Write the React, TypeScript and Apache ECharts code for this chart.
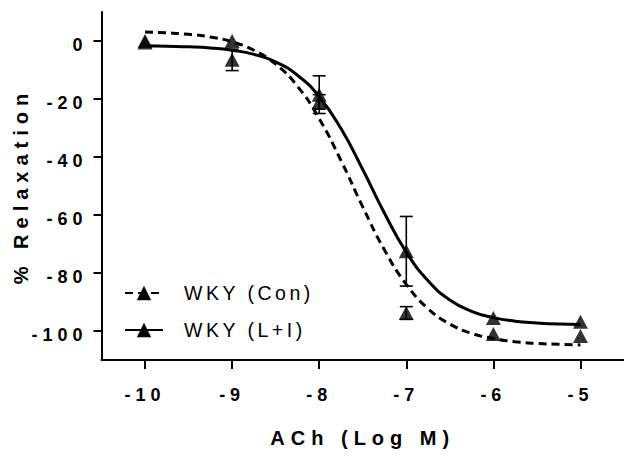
import React, { useEffect, useRef } from 'react';
import * as echarts from 'echarts';

// Concentrations (log M) and responses (% relaxation)
const doseLogM = [-10, -9, -8, -7, -6, -5];
const conMean = [0, 0, -21, -93.8, -101, -101.7];
const conSem = [0, 0, 2.5, 2.2, 0, 0];
const liMean = [-0.5, -6.5, -18.5, -72.5, -95.5, -96.8];
const liSem = [0, 3.7, 6.5, 12, 0, 0];

// Fitted curves
const fitX = [-10, -9.75, -9.5, -9.25, -9, -8.75, -8.5, -8.25, -8, -7.75, -7.5, -7.25, -7, -6.75, -6.5, -6.25, -6, -5.75, -5.5, -5.25, -5];
const conFit = [3.1, 2.8, 2.3, 1.4, -0.3, -3.2, -8.0, -15.6, -26.8, -41.2, -57.2, -72.1, -83.9, -92.3, -97.6, -100.8, -102.6, -103.7, -104.3, -104.6, -104.8];
const liFit = [-1.6, -1.8, -2.0, -2.4, -3.2, -4.6, -7.2, -11.8, -19.2, -30.2, -44.3, -59.4, -72.8, -82.7, -89.3, -93.2, -95.4, -96.6, -97.2, -97.6, -97.8];

const xTicks = [-10, -9, -8, -7, -6, -5];
const yTicks = [0, -20, -40, -60, -80, -100];
const seriesNames = ['WKY (Con)', 'WKY (L+I)'];

const FONT = 'Liberation Sans';

function errorSeries(name: string, mean: number[], sem: number[]) {
  return {
    name,
    type: 'custom',
    z: 3,
    silent: true,
    data: doseLogM.map((x, i) => [x, mean[i], sem[i]]).filter((d) => d[2] > 0),
    encode: { x: 0, y: 1 },
    renderItem: (_params: any, api: any) => {
      const x = api.value(0);
      const m = api.value(1);
      const e = api.value(2);
      const top = api.coord([x, m + e]);
      const bot = api.coord([x, m - e]);
      const hw = 6.5;
      const st = { stroke: '#000', lineWidth: 1.6 };
      return {
        type: 'group',
        children: [
          { type: 'line', shape: { x1: top[0], y1: top[1], x2: bot[0], y2: bot[1] }, style: st },
          { type: 'line', shape: { x1: top[0] - hw, y1: top[1], x2: top[0] + hw, y2: top[1] }, style: st },
          { type: 'line', shape: { x1: bot[0] - hw, y1: bot[1], x2: bot[0] + hw, y2: bot[1] }, style: st },
        ],
      };
    },
  };
}

export default function App() {
  const ref = useRef<HTMLDivElement>(null);
  useEffect(() => {
    if (!ref.current) return;
    const chart = echarts.init(ref.current, null, { renderer: 'svg' });
    const option: any = {
      animation: false,
      backgroundColor: '#fff',
      grid: { left: 101.5, top: 12, width: 524.4, height: 348, containLabel: false },
      legend: {
        data: seriesNames,
        orient: 'vertical',
        left: 124,
        top: 283,
        padding: 0,
        itemWidth: 38,
        itemHeight: 18,
        itemGap: 17,
        selectedMode: false,
        textStyle: { fontFamily: FONT, fontSize: 19.5, color: '#000', padding: [0, 0, 0, 16] },
      },
      xAxis: {
        type: 'value',
        min: -10.5,
        max: -4.5,
        name: 'ACh (Log M)',
        nameLocation: 'middle',
        nameGap: 68,
        nameTextStyle: { fontFamily: FONT, fontSize: 20, fontWeight: 'bold', color: '#000' },
        axisLine: { onZero: false, lineStyle: { color: '#000', width: 2 } },
        axisTick: { show: true, length: 9, customValues: xTicks, lineStyle: { color: '#000', width: 2 } },
        axisLabel: { customValues: xTicks, fontFamily: FONT, fontSize: 18, fontWeight: 'bold', color: '#000', margin: 26 },
        splitLine: { show: false },
      },
      yAxis: {
        type: 'value',
        min: -110,
        max: 10,
        name: '% Relaxation',
        nameLocation: 'middle',
        nameGap: 71,
        nameTextStyle: { fontFamily: FONT, fontSize: 20, fontWeight: 'bold', color: '#000' },
        axisLine: { onZero: false, lineStyle: { color: '#000', width: 2 } },
        axisTick: { show: true, length: 8, customValues: yTicks, lineStyle: { color: '#000', width: 2 } },
        axisLabel: {
          customValues: yTicks,
          fontFamily: FONT,
          fontSize: 18,
          fontWeight: 'bold',
          color: '#000',
          margin: 14,
          verticalAlign: 'top',
          lineHeight: 7,
        },
        splitLine: { show: false },
      },
      series: [
        {
          name: seriesNames[0],
          type: 'line',
          data: fitX.map((x, i) => [x, conFit[i]]),
          smooth: true,
          showSymbol: false,
          symbol: 'triangle',
          silent: true,
          color: '#000',
          itemStyle: { color: '#000' },
          lineStyle: { color: '#000', width: 3, type: [8, 5] },
          z: 2,
        },
        {
          name: seriesNames[1],
          type: 'line',
          data: fitX.map((x, i) => [x, liFit[i]]),
          smooth: true,
          showSymbol: false,
          symbol: 'triangle',
          silent: true,
          color: '#000',
          itemStyle: { color: '#000' },
          lineStyle: { color: '#000', width: 3, type: 'solid' },
          z: 2,
        },
        errorSeries('Con SEM', conMean, conSem),
        errorSeries('L+I SEM', liMean, liSem),
        {
          name: 'Con points',
          type: 'scatter',
          data: doseLogM.map((x, i) => [x, conMean[i]]),
          symbol: 'triangle',
          symbolSize: [15, 14],
          itemStyle: { color: '#000' },
          silent: true,
          z: 4,
        },
        {
          name: 'L+I points',
          type: 'scatter',
          data: doseLogM.map((x, i) => [x, liMean[i]]),
          symbol: 'triangle',
          symbolSize: [15, 14],
          itemStyle: { color: '#000' },
          silent: true,
          z: 4,
        },
      ],
    };
    chart.setOption(option);
    return () => chart.dispose();
  }, []);
  return (
    <>
      <style>{`
        #relax-chart text[style*="18px"] { letter-spacing: 5px; }
        #relax-chart text[style*="20px"] { letter-spacing: 6px; }
        #relax-chart text[style*="19.5px"] { letter-spacing: 3.5px; }
      `}</style>
      <div
        id="relax-chart"
        ref={ref}
        style={{ position: 'absolute', left: 0, top: 0, width: 624, height: 458, background: '#fff' }}
      />
    </>
  );
}
